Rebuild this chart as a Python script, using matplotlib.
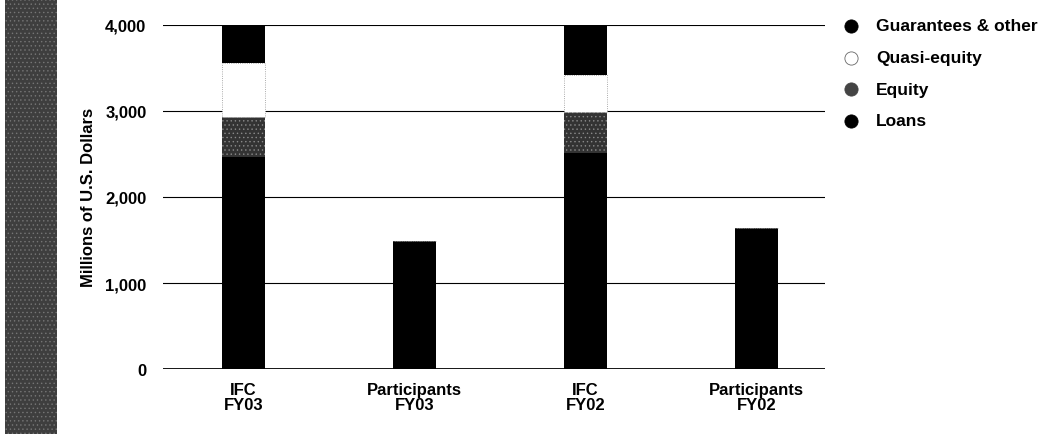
import matplotlib
matplotlib.use("Agg")
import matplotlib.pyplot as plt
from matplotlib.patches import Rectangle
from matplotlib.lines import Line2D

plt.rcParams['font.family'] = ['Liberation Sans', 'DejaVu Sans']
plt.rcParams['font.weight'] = 'bold'
plt.rcParams['hatch.linewidth'] = 0.5

# Commitments by product, millions of U.S. dollars
groups = ['IFC\nFY03', 'Participants\nFY03', 'IFC\nFY02', 'Participants\nFY02']
loans = [2460, 1490, 2510, 1640]
equity = [470, 0, 475, 0]
quasi_equity = [630, 0, 435, 0]
guarantees = [440, 0, 580, 0]

series_names = ['Guarantees & other', 'Quasi-equity', 'Equity', 'Loans']
yticks = [0, 1000, 2000, 3000, 4000]
ytick_labels = ['0', '1,000', '2,000', '3,000', '4,000']

fig = plt.figure(figsize=(10.39, 4.35), dpi=100)
ax = fig.add_axes([0.157, 0.149, 0.637, 0.792])

# grey strip down the left edge
fig.patches.append(Rectangle((0.005, 0.0), 0.05, 1.0, transform=fig.transFigure,
                             facecolor='#3e3e3e', edgecolor='#767676', lw=0,
                             hatch='....', zorder=0))

x = list(range(len(groups)))
w = 0.25
for y in yticks[1:]:
    ax.axhline(y, color='black', lw=0.8, zorder=1)
ax.axhline(0, color='black', lw=2.0, zorder=4)

b1 = [l for l in loans]
b2 = [l + e for l, e in zip(loans, equity)]
b3 = [a + q for a, q in zip(b2, quasi_equity)]

ax.bar(x, loans, w, color='black', edgecolor='black', lw=0, zorder=2)
ax.bar(x, equity, w, bottom=b1, color='#333333', edgecolor='#8a8a8a', lw=0,
       hatch='....', zorder=2)
ax.bar(x, quasi_equity, w, bottom=b2, color='white', edgecolor='#909090', lw=0.6,
       ls=':', zorder=2)
ax.bar(x, guarantees, w, bottom=b3, color='black', edgecolor='black', lw=0, zorder=2)

ax.set_xlim(-0.47, 3.40)
ax.set_ylim(0, 4000)
ax.set_yticks(yticks)
ax.set_yticklabels(ytick_labels)
ax.set_xticks(x)
ax.set_xticklabels(groups, linespacing=1.05)
ax.tick_params(axis='both', length=0, labelsize=12)
ax.tick_params(axis='y', pad=12)
ax.tick_params(axis='x', pad=9)
for s in ax.spines.values():
    s.set_visible(False)
ax.set_ylabel('Millions of U.S. Dollars', fontsize=12, fontweight='bold')
ax.yaxis.set_label_coords(-0.102, 0.5)

# legend drawn as markers beside the plot
styles = [dict(mfc='black', mec='black'),
          dict(mfc='white', mec='#666666'),
          dict(mfc='#444444', mec='#444444'),
          dict(mfc='black', mec='black')]
ys = [0.938, 0.865, 0.793, 0.720]
for name, st, yy in zip(series_names, styles, ys):
    fig.lines.append(Line2D([0.819], [yy], transform=fig.transFigure, marker='o',
                            markersize=9.5, mfc=st['mfc'], mec=st['mec'], mew=0.6,
                            ls='none'))
    fig.text(0.843, yy, name, fontsize=12.5, fontweight='bold', va='center', ha='left')

fig.savefig('out.png', dpi=100)
